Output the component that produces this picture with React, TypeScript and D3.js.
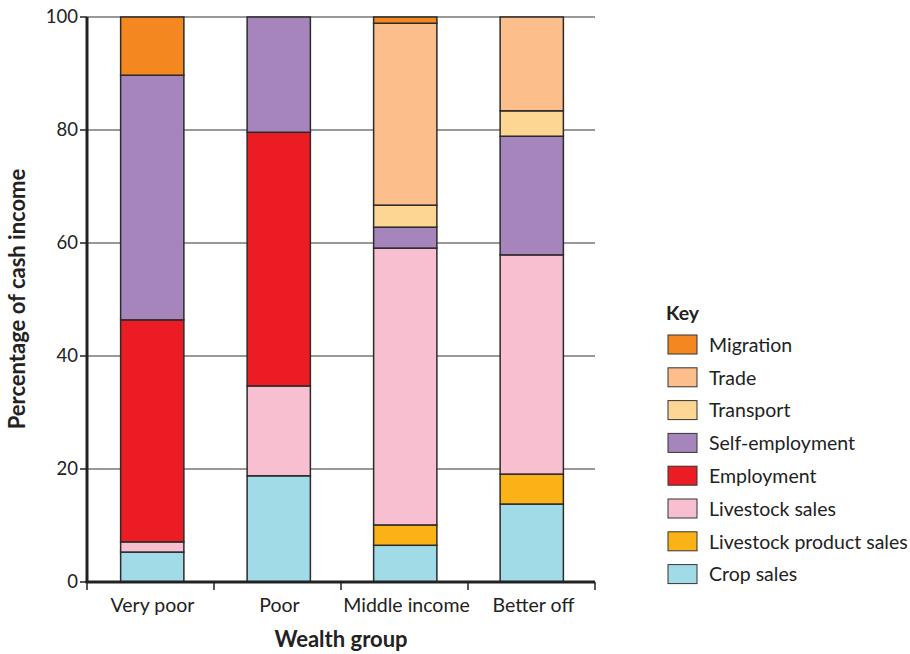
import React from 'react';
import * as d3 from 'd3';

const groups = ['Very poor', 'Poor', 'Middle income', 'Better off'];
const sources = [
  'Crop sales',
  'Livestock product sales',
  'Livestock sales',
  'Employment',
  'Self-employment',
  'Transport',
  'Trade',
  'Migration',
];
const colors = ['#a1dbe8', '#fbb216', '#f8bfd0', '#ec1c24', '#a685bc', '#fed693', '#fcbe8a', '#f58720'];

// values per source, in group order
const cropSales = [5.3, 18.8, 6.5, 13.8];
const livestockProductSales = [0, 0, 3.6, 5.3];
const livestockSales = [1.8, 15.9, 49.0, 38.8];
const employment = [39.3, 44.9, 0, 0];
const selfEmployment = [43.3, 20.4, 3.7, 21.0];
const transport = [0, 0, 3.9, 4.5];
const trade = [0, 0, 32.2, 16.6];
const migration = [10.3, 0, 1.1, 0];

const yTicks = [0, 20, 40, 60, 80, 100];

const seriesValues = [
  cropSales,
  livestockProductSales,
  livestockSales,
  employment,
  selfEmployment,
  transport,
  trade,
  migration,
];

const App = () => {
  const width = 910;
  const height = 654;
  const left = 87;
  const right = 595;
  const top = 17;
  const bottom = 582;
  const font = 'Lato, "Open Sans", sans-serif';

  const rows = groups.map((g, i) => {
    const r: Record<string, any> = { group: g };
    sources.forEach((s, k) => (r[s] = seriesValues[k][i]));
    return r;
  });
  const stacked = d3.stack<any>().keys(sources)(rows);

  const x = d3.scaleBand().domain(groups).range([left + 2, right]).paddingInner(0.5).paddingOuter(0.25);
  const band = d3.scaleBand().domain(groups).range([left, right]);
  const y = d3.scaleLinear().domain([0, 100]).range([bottom, top]);

  const legendOrder = [...sources].reverse();

  return (
    <svg width={width} height={height} style={{ position: 'absolute', left: 0, top: 0 }}>
      <rect width={width} height={height} fill="#fff" />
      {yTicks.slice(1).map((t) => (
        <line key={t} x1={left} x2={right} y1={y(t)} y2={y(t)} stroke="#333" strokeWidth={1} />
      ))}
      {stacked.map((s, k) =>
        s.map((d, i) =>
          d[1] - d[0] > 0 ? (
            <rect
              key={`${k}-${i}`}
              x={x(groups[i])}
              width={x.bandwidth()}
              y={y(d[1])}
              height={y(d[0]) - y(d[1])}
              fill={colors[k]}
              stroke="#2b2b2b"
              strokeWidth={1.5}
            />
          ) : null
        )
      )}
      {/* axes */}
      <line x1={left} x2={left} y1={top} y2={bottom + 1} stroke="#222" strokeWidth={3} />
      <line x1={left - 1.5} x2={right} y1={bottom} y2={bottom} stroke="#222" strokeWidth={3} />
      {yTicks.map((t) => (
        <g key={t}>
          <line x1={left - 7} x2={left} y1={y(t)} y2={y(t)} stroke="#222" strokeWidth={1.5} />
          <text x={left - 9} y={y(t)} dy="0.35em" textAnchor="end" fontSize={18.5} fontFamily={font} fill="#222">
            {t}
          </text>
        </g>
      ))}
      {[...groups.map((g) => band(g) as number), right].map((v, i) => (
        <line key={i} x1={v} x2={v} y1={bottom} y2={bottom + 8} stroke="#222" strokeWidth={1.5} />
      ))}
      {groups.map((g) => (
        <text
          key={g}
          x={(band(g) as number) + band.bandwidth() / 2 + 2}
          y={bottom + 30}
          textAnchor="middle"
          fontSize={19.5}
          fontFamily={font}
          fill="#222"
        >
          {g}
        </text>
      ))}
      <text x={341} y={647} textAnchor="middle" fontSize={22} fontWeight="bold" fontFamily={font} fill="#222">
        Wealth group
      </text>
      <text
        transform={`translate(25, 299) rotate(-90)`}
        textAnchor="middle"
        fontSize={22}
        fontWeight="bold"
        fontFamily={font}
        fill="#222"
      >
        Percentage of cash income
      </text>
      {/* key */}
      <text x={666} y={320} fontSize={19.5} fontWeight="bold" fontFamily={font} fill="#222">
        Key
      </text>
      {legendOrder.map((s, i) => {
        const ly = 335 + i * 32.8;
        return (
          <g key={s}>
            <rect x={668} y={ly} width={29} height={19} fill={colors[sources.indexOf(s)]} stroke="#333" strokeWidth={1} />
            <text x={709} y={ly + 10} dy="0.35em" fontSize={19.5} fontFamily={font} fill="#222">
              {s}
            </text>
          </g>
        );
      })}
    </svg>
  );
};

export default App;
